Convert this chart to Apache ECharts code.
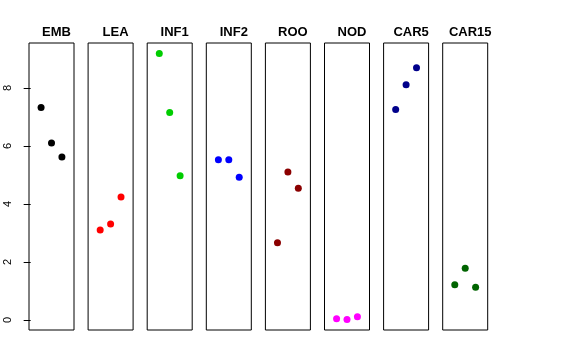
<!DOCTYPE html>
<html>
<head>
<meta charset="utf-8">
<script src="https://cdn.jsdelivr.net/npm/echarts@6/dist/echarts.min.js"></script>
<style>html,body{margin:0;padding:0;background:#fff;}#c{width:576px;height:360px;}</style>
</head>
<body>
<div id="c"></div>
<script>
// ---- data ----
const panels = ['EMB', 'LEA', 'INF1', 'INF2', 'ROO', 'NOD', 'CAR5', 'CAR15'];
const xPos = [1, 2, 3];
const EMB   = [7.32, 6.10, 5.62];
const LEA   = [3.10, 3.31, 4.24];
const INF1  = [9.18, 7.15, 4.97];
const INF2  = [5.52, 5.52, 4.92];
const ROO   = [2.66, 5.10, 4.54];
const NOD   = [0.045, 0.02, 0.11];
const CAR5  = [7.25, 8.11, 8.69];
const CAR15 = [1.21, 1.78, 1.13];
const yTicks = [0, 2, 4, 6, 8];
const seriesValues = [EMB, LEA, INF1, INF2, ROO, NOD, CAR5, CAR15];

// ---- styles ----
const colors = ['#000000', '#FF0000', '#00CD00', '#0000FF', '#8B0000', '#FF00FF', '#00008B', '#006400'];

(function () {
  const chart = echarts.init(document.getElementById('c'), null, {renderer: 'canvas'});
  const grids = [], xAxes = [], yAxes = [], series = [], titles = [];
  const left0 = 29, stride = 59.1, w = 45, gTop = 43, h = 287;
  const yMin = -0.346, yMax = 9.546;

  panels.forEach((name, i) => {
    const l = left0 + stride * i;
    grids.push({left: l, top: gTop, width: w, height: h, show: true, borderColor: '#000', borderWidth: 1, backgroundColor: 'transparent'});
    xAxes.push({type: 'value', gridIndex: i, min: -0.16, max: 4.16, show: false});
    yAxes.push({
      type: 'value', gridIndex: i, min: yMin, max: yMax,
      show: i === 0,
      axisLine: {show: false},
      splitLine: {show: false},
      axisTick: {show: true, length: 7, lineStyle: {color: '#000', width: 1}, customValues: yTicks},
      axisLabel: {show: true, rotate: 90, margin: 16, color: '#000', fontSize: 11, fontFamily: 'Liberation Sans, Arial, sans-serif', customValues: yTicks, formatter: v => String(v)}
    });
    series.push({
      type: 'scatter', xAxisIndex: i, yAxisIndex: i,
      symbol: 'circle', symbolSize: 7,
      itemStyle: {color: colors[i], opacity: 1},
      data: xPos.map((x, k) => [x, seriesValues[i][k]]),
      silent: true, animation: false
    });
    titles.push({
      text: name, left: l + w / 2, top: 21, textAlign: 'center',
      textStyle: {fontSize: 13, fontWeight: 'bold', color: '#000', fontFamily: 'Liberation Sans, Arial, sans-serif'}
    });
  });

  chart.setOption({
    animation: false,
    backgroundColor: '#fff',
    title: titles,
    grid: grids,
    xAxis: xAxes,
    yAxis: yAxes,
    series: series
  });
})();
</script>
</body>
</html>
